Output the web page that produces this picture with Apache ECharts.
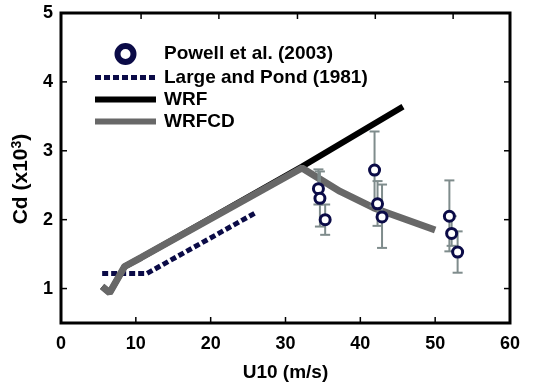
<!DOCTYPE html>
<html>
<head>
<meta charset="utf-8">
<script src="https://cdn.jsdelivr.net/npm/echarts@6/dist/echarts.min.js"></script>
<style>
  html, body { margin: 0; padding: 0; background: #fff; }
  #chart { width: 542px; height: 383px; }
</style>
</head>
<body>
<div id="chart"></div>
<script>
const seriesNames = ['Powell et al. (2003)', 'Large and Pond (1981)', 'WRF', 'WRFCD']

// Powell et al. (2003) observations with error bars
const powellX = [34.4, 34.6, 35.3, 41.9, 42.3, 42.9, 51.9, 52.2, 53.0]
const powellY = [2.45, 2.31, 2.0, 2.72, 2.23, 2.04, 2.05, 1.80, 1.53]
const powellHigh = [2.73, 2.70, 2.22, 3.28, 2.56, 2.51, 2.57, 2.05, 1.83]
const powellLow = [2.22, 1.90, 1.78, 2.20, 1.91, 1.59, 1.54, 1.62, 1.23]

// Large and Pond (1981)
const largeX = [5.5, 11.5, 26]
const largeY = [1.22, 1.22, 2.1]

// WRF
const wrfX = [5.5, 6.5, 8.5, 10.7, 32.2, 45.7]
const wrfY = [1.03, 0.94, 1.32, 1.45, 2.77, 3.64]

// WRFCD
const wrfcdX = [5.5, 6.5, 8.5, 10.7, 32.2, 37.3, 41.8, 50]
const wrfcdY = [1.03, 0.94, 1.32, 1.45, 2.75, 2.41, 2.17, 1.85]

// tick positions (the top ticks of the original frame sit on a slightly wider spacing)
const yLabels = [1, 2, 3, 4, 5]
const xTicks = [10, 20, 30, 40, 50]
const topTicks = [10.7, 21.1, 31.6, 42.0, 52.4]
const yTicks = [1, 2, 3, 4]

const zip = (xs, ys) => xs.map((x, i) => [x, ys[i]])
const font = '"Liberation Sans", Arial, sans-serif'
const navy = '#0b0b47'
const gray = '#686868'

const chart = echarts.init(document.getElementById('chart'))

const labelStyle = { color: '#000', fontSize: 18, fontWeight: 'bold', fontFamily: font }
const nameStyle = { ...labelStyle, fontSize: 19 }

chart.setOption({
  animation: false,
  grid: { left: 61, right: 32, top: 13, bottom: 60, outerBoundsMode: 'none' },
  legend: {
    orient: 'vertical',
    left: 87,
    top: 38,
    itemWidth: 61,
    itemHeight: 16,
    itemGap: 3,
    textStyle: { ...labelStyle, fontSize: 19, lineHeight: 19, padding: [0, 0, 0, 3] },
    data: [
      { name: seriesNames[0], icon: 'circle', itemStyle: { color: '#fff', borderColor: navy, borderWidth: 6 } },
      { name: seriesNames[1], itemStyle: { opacity: 0 }, lineStyle: { color: navy, width: 5, type: [6, 3] } },
      { name: seriesNames[2], itemStyle: { opacity: 0 }, lineStyle: { color: '#000', width: 6 } },
      { name: seriesNames[3], itemStyle: { opacity: 0 }, lineStyle: { color: gray, width: 6 } }
    ]
  },
  xAxis: {
    type: 'value', min: 0, max: 60, interval: 10,
    name: 'U10 (m/s)', nameLocation: 'middle', nameGap: 40,
    nameTextStyle: nameStyle,
    axisLine: { show: false }, axisTick: { show: false },
    axisLabel: { ...labelStyle, margin: 12 },
    splitLine: { show: false }
  },
  yAxis: {
    type: 'value', min: 0.5, max: 5,
    name: '{t|Cd (x10}{s|3}{t|)}', nameLocation: 'middle', nameGap: 28,
    nameTextStyle: {
      ...nameStyle,
      padding: [0, 22, 0, 0],
      rich: {
        t: { ...nameStyle, fontSize: 21 },
        s: { ...nameStyle, fontSize: 14, verticalAlign: 'bottom', padding: [0, 0, 9, 0] }
      }
    },
    axisLine: { show: false }, axisTick: { show: false },
    axisLabel: { ...labelStyle, margin: 8, customValues: yLabels },
    splitLine: { show: false }
  },
  series: [
    {
      name: seriesNames[1],
      type: 'line',
      data: zip(largeX, largeY),
      symbol: 'none',
      lineStyle: { color: navy, width: 5, type: [6, 3] },
      itemStyle: { color: navy },
      z: 2
    },
    {
      name: seriesNames[2],
      type: 'line',
      data: zip(wrfX, wrfY),
      symbol: 'none',
      lineStyle: { color: '#000', width: 6 },
      itemStyle: { color: '#000' },
      z: 3
    },
    {
      name: seriesNames[3],
      type: 'line',
      data: zip(wrfcdX, wrfcdY),
      symbol: 'none',
      lineStyle: { color: gray, width: 7 },
      itemStyle: { color: gray },
      z: 4
    },
    {
      // error bars
      type: 'custom',
      data: powellX.map((x, i) => [x, powellLow[i], powellHigh[i]]),
      renderItem: (params, api) => {
        const lo = api.coord([api.value(0), api.value(1)])
        const hi = api.coord([api.value(0), api.value(2)])
        const w = 5
        const style = { stroke: '#7f8c8c', lineWidth: 2 }
        return {
          type: 'group',
          children: [
            { type: 'line', shape: { x1: lo[0], y1: lo[1], x2: hi[0], y2: hi[1] }, style },
            { type: 'line', shape: { x1: lo[0] - w, y1: lo[1], x2: lo[0] + w, y2: lo[1] }, style },
            { type: 'line', shape: { x1: hi[0] - w, y1: hi[1], x2: hi[0] + w, y2: hi[1] }, style }
          ]
        }
      },
      z: 5
    },
    {
      name: seriesNames[0],
      type: 'scatter',
      data: zip(powellX, powellY),
      symbol: 'circle',
      symbolSize: 10,
      itemStyle: { color: '#fff', borderColor: navy, borderWidth: 3, opacity: 1 },
      z: 6
    },
    {
      // box frame with inward ticks on all four sides
      type: 'custom',
      silent: true,
      data: [[0, 1]],
      renderItem: (params, api) => {
        const cs = params.coordSys
        const top = cs.y, bottom = cs.y + cs.height
        const left = cs.x, right = cs.x + cs.width
        const tick = { stroke: '#000', lineWidth: 1.5 }
        const len = 6
        const children = [{
          type: 'rect',
          shape: { x: left, y: top, width: cs.width, height: cs.height },
          style: { fill: 'none', stroke: '#000', lineWidth: 3 }
        }]
        xTicks.forEach(v => {
          const x = api.coord([v, 1])[0]
          children.push({ type: 'line', shape: { x1: x, y1: bottom, x2: x, y2: bottom - len }, style: tick })
        })
        topTicks.forEach(v => {
          const x = api.coord([v, 1])[0]
          children.push({ type: 'line', shape: { x1: x, y1: top, x2: x, y2: top + len }, style: tick })
        })
        yTicks.forEach(v => {
          const y = api.coord([0, v])[1]
          children.push({ type: 'line', shape: { x1: left, y1: y, x2: left + len, y2: y }, style: tick })
          children.push({ type: 'line', shape: { x1: right, y1: y, x2: right - len, y2: y }, style: tick })
        })
        return { type: 'group', children }
      },
      z: 10
    }
  ]
})
</script>
</body>
</html>
